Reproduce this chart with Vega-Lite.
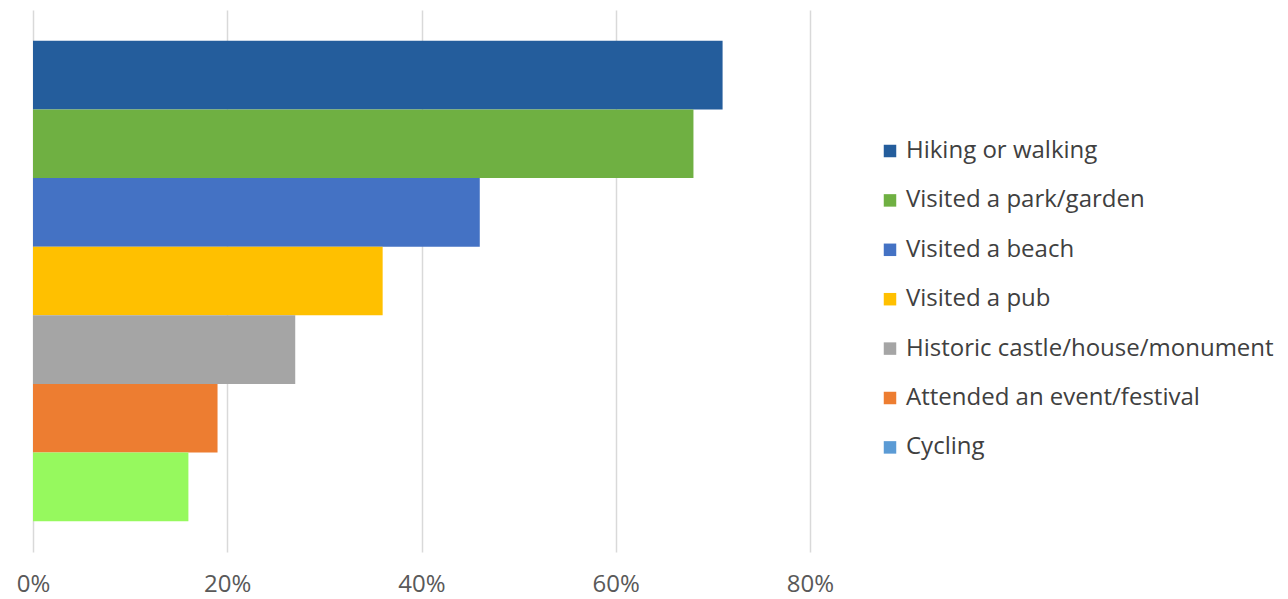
{
  "$schema": "https://vega.github.io/schema/vega-lite/v6.json",
  "width": 777,
  "height": 542,
  "autosize": {"type": "none"},
  "padding": {"left": 33, "top": 10, "right": 478, "bottom": 47},
  "background": "white",
  "config": {"view": {"stroke": null}, "font": "Open Sans"},
  "data": {"values": [
    {"activity": "Hiking or walking", "pct": 0.71},
    {"activity": "Visited a park/garden", "pct": 0.68},
    {"activity": "Visited a beach", "pct": 0.46},
    {"activity": "Visited a pub", "pct": 0.36},
    {"activity": "Historic castle/house/monument", "pct": 0.27},
    {"activity": "Attended an event/festival", "pct": 0.19},
    {"activity": "Cycling", "pct": 0.16}
  ]},
  "mark": {"type": "bar"},
  "encoding": {
    "y": {"field": "activity", "type": "nominal", "sort": null,
      "scale": {"paddingInner": 0, "paddingOuter": 0.45},
      "axis": null},
    "x": {"field": "pct", "type": "quantitative",
      "scale": {"domain": [0, 0.8], "nice": false},
      "axis": {"format": ".0%", "values": [0, 0.2, 0.4, 0.6, 0.8], "title": null,
        "domain": false, "ticks": false, "grid": true, "gridColor": "#d9d9d9", "gridWidth": 1.5,
        "labelFlush": false, "labelBound": false,
        "labelFontSize": 24, "labelColor": "#595959", "labelPadding": 20, "labelFont": "Open Sans"}},
    "color": {
      "condition": {"test": "datum.activity === 'Cycling'", "value": "#96F95E"},
      "field": "activity", "type": "nominal", "sort": null,
      "scale": {
        "domain": ["Hiking or walking", "Visited a park/garden", "Visited a beach", "Visited a pub", "Historic castle/house/monument", "Attended an event/festival", "Cycling"],
        "range": ["#245D9C", "#6FB042", "#4472C4", "#FFC000", "#A5A5A5", "#ED7D31", "#5B9BD5"]
      },
      "legend": {"title": null, "orient": "none", "legendX": 845, "legendY": 129,
        "symbolType": "square", "symbolSize": 156, "symbolStrokeWidth": 0,
        "labelFontSize": 24, "labelColor": "#404040", "labelFont": "Open Sans",
        "rowPadding": 25.4, "labelOffset": 4, "labelLimit": 500}
    }
  }
}
